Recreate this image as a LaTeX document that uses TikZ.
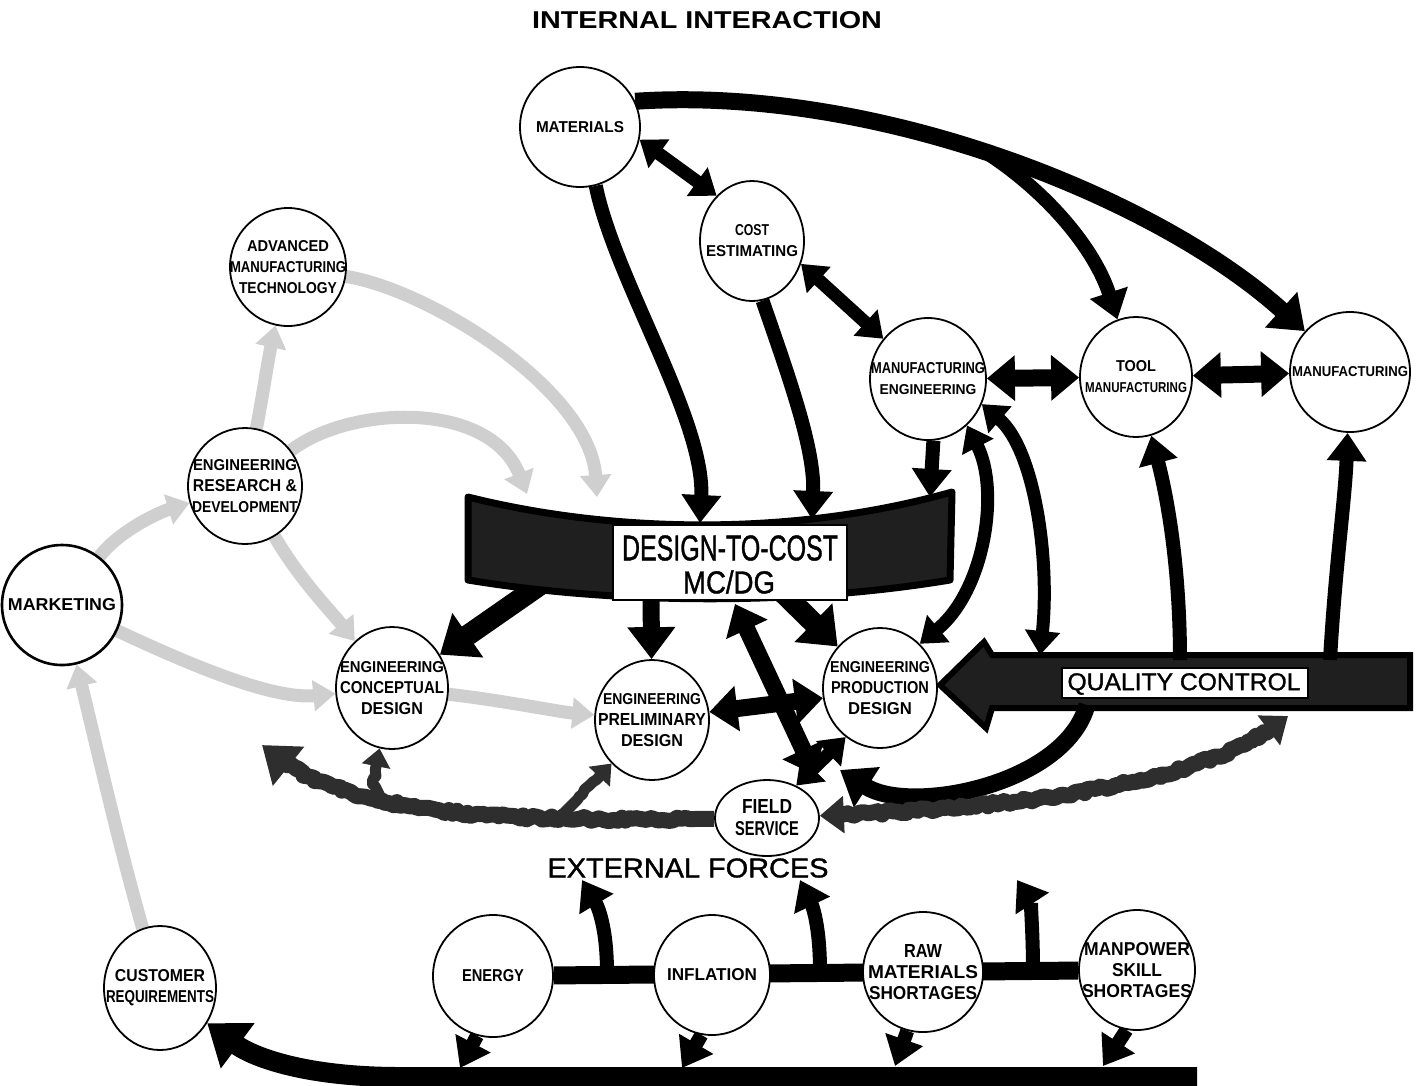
\documentclass[tikz,border=0pt]{standalone}
\usepackage{graphicx}
\usepackage{fontspec}
\setmainfont{Liberation Sans}
\newfontfamily\midfont{Liberation Sans}[FakeBold=1.2]
\usetikzlibrary{arrows.meta,shapes.geometric,calc,decorations.pathmorphing}

% stretch a line of text to a given width and cap height (in pt)
\newcommand\fitline[3]{\resizebox{#1pt}{#2pt}{#3}}

\pgfdeclarelayer{paper}
\pgfdeclarelayer{back}
\pgfdeclarelayer{mid}
\pgfsetlayers{paper,back,mid,main}

\tikzset{
  bub/.style 2 args={ellipse, draw=black, line width=1.8pt, fill=white,
    minimum width=#1pt, minimum height=#2pt, inner sep=0pt},
  lbl/.style={inner sep=0pt, align=center, font=\bfseries\fontsize{12}{21}\selectfont},
  plain/.style={inner sep=0pt},
  blk/.style={draw=black, line width=17pt, -{Triangle[length=32pt,width=46pt]}},
  blkthin/.style={draw=black, line width=14pt, -{Triangle[length=28pt,width=38pt]}},
  blkfat/.style={draw=black, line width=21pt, -{Triangle[length=34pt,width=52pt]}},
  dbl/.style={draw=black, line width=17pt,
    {Triangle[length=28pt,width=44pt]}-{Triangle[length=28pt,width=44pt]}},
  dblthin/.style={draw=black, line width=13pt,
    {Triangle[length=24pt,width=34pt]}-{Triangle[length=24pt,width=34pt]}},
  gry/.style={draw=gray!38, line width=13pt, -{Triangle[length=22pt,width=30pt]}},
  grain/.style={draw=black!82, line width=16pt, line join=round,
    decorate, decoration={random steps, segment length=4pt, amplitude=2pt,
      pre=lineto, pre length=22pt, post=lineto, post length=22pt}},
}

\begin{document}
\begin{tikzpicture}[x=1pt,y=-1pt]
\useasboundingbox (0,0) rectangle (1420,1085);
\begin{pgfonlayer}{paper}
\fill[white] (0,0) rectangle (1420,1085);
\end{pgfonlayer}

% ---------- departments ----------
\node[bub={120}{120}] (mat)   at (580,127) {};
\node[bub={104}{120}] (cost)  at (752,241) {};
\node[bub={116}{118}] (amt)   at (288,267) {};
\node[bub={116}{122}] (mfe)   at (928,379) {};
\node[bub={112}{120}] (tool)  at (1136,377) {};
\node[bub={120}{120}] (manu)  at (1350,372) {};
\node[bub={114}{116}] (rnd)   at (245,486) {};
\node[bub={120}{120}, line width=2.6pt] (mkt) at (62,605) {};
\node[bub={112}{122}] (ecd)   at (392,688) {};
\node[bub={114}{120}] (epd)   at (652,720) {};
\node[bub={114}{120}] (eprod) at (880,688) {};
\node[bub={104}{76}]  (fs)    at (767,818) {};
\node[bub={112}{124}] (cust)  at (160,988) {};
\node[bub={120}{122}] (energy) at (493,976) {};
\node[bub={116}{120}] (infl)  at (712,975) {};
\node[bub={120}{120}] (raw)   at (923,972) {};
\node[bub={116}{120}] (manp)  at (1137,970) {};

% ---------- free ends of connectors ----------
\coordinate (br)   at (990,155);
\coordinate (dtcA) at (700,523);
\coordinate (dtcB) at (812,519);
\coordinate (dtcC) at (930,497);
\coordinate (dtcD) at (540,585);
\coordinate (dtcE) at (651,590);
\coordinate (dtcF) at (780,590);
\coordinate (dtcG) at (735,604);
\coordinate (dtcH) at (815,775);
\coordinate (dtcI) at (597,497);
\coordinate (dtcJ) at (527,494);
\coordinate (qcD)  at (1040,655);
\coordinate (qcE)  at (1180,660);
\coordinate (qcF)  at (1330,660);
\coordinate (qcG)  at (1087,705);
\coordinate (qcH)  at (1288,716);
\coordinate (pdS)  at (840,770);
\coordinate (lft)  at (262,745);
\coordinate (j1)   at (385,806);
\coordinate (j2)   at (562,815);
\coordinate (u1s)  at (607,973);
\coordinate (u1e)  at (582,880);
\coordinate (u2s)  at (820,971);
\coordinate (u2e)  at (800,880);
\coordinate (u3s)  at (1033,970);
\coordinate (u3e)  at (1017,880);
\coordinate (d1)   at (460,1068);
\coordinate (d2)   at (682,1068);
\coordinate (d3)   at (895,1066);
\coordinate (d4)   at (1103,1066);
\coordinate (bbR)  at (1197,1077);
\coordinate (bbM)  at (400,1077);

% ---------- grey (indirect) influences ----------
\begin{pgfonlayer}{back}
\draw[gry] (amt) .. controls (430,290) and (590,390) .. (dtcI);
\draw[gry] (rnd) .. controls (350,405) and (490,400) .. (dtcJ);
\draw[gry] (rnd) .. controls (262,400) and (268,360) .. (amt);
\draw[gry] (mkt) .. controls (120,530) and (160,512) .. (rnd);
\draw[gry] (rnd) .. controls (300,580) and (330,610) .. (ecd);
\draw[gry] (mkt) .. controls (180,660) and (270,700) .. (ecd);
\draw[gry] (ecd) .. controls (500,700) and (560,712) .. (epd);
\draw[gry] (cust) .. controls (120,850) and (95,740) .. (mkt);

% arrows leaving the design-to-cost band
\draw[blkfat] (dtcD) -- (ecd);
\draw[blk] (dtcE) -- (epd);
\draw[blkfat] (dtcF) -- (eprod);

% external forces bar and its branches
\draw[black, line width=18pt] (energy) -- (manp);
\draw[blkthin] (u1s) .. controls (607,925) and (597,905) .. (u1e);
\draw[blkthin] (u2s) .. controls (820,925) and (812,905) .. (u2e);
\draw[blkthin] (u3s) .. controls (1033,930) and (1030,900) .. (u3e);
\end{pgfonlayer}

% ---------- bands ----------
\begin{pgfonlayer}{mid}
\filldraw[fill=black!88, draw=black, line width=7pt, line join=round]
  (468,497) .. controls (620,535) and (800,535) .. (952,492)
  -- (950,580) .. controls (800,605) and (620,605) .. (468,580) -- cycle;
\filldraw[fill=black!88, draw=black, line width=6pt, line join=miter]
  (940,685) -- (984,642) -- (992,655) -- (1410,655) -- (1410,708)
  -- (992,708) -- (986,728) -- cycle;

% ---------- direct (black) influences ----------
\draw[blk] (mat.25) .. controls (880,85) and (1160,200) .. (manu);
\draw[blkthin] (br) .. controls (1050,195) and (1095,250) .. (tool);
\draw[dblthin] (mat.-12) -- (cost.128);
\draw[blkthin] (mat.-75) .. controls (615,280) and (705,420) .. (dtcA);
\draw[blkthin] (cost.-80) .. controls (790,380) and (815,450) .. (dtcB);
\draw[dblthin] (cost.-25) -- (mfe.138);
\draw[dbl] (mfe) -- (tool);
\draw[dbl] (tool) -- (manu);
\draw[blkthin] (mfe.-85) -- (dtcC);
\draw[dblthin] (mfe.-50) .. controls (1000,490) and (985,590) .. (eprod.48);
\draw[dblthin] (mfe.-25) .. controls (1035,450) and (1050,560) .. (qcD);
\draw[blkthin] (qcE) .. controls (1180,570) and (1168,500) .. (tool);
\draw[blkthin] (qcF) .. controls (1335,570) and (1345,500) .. (manu);
\draw[dbl] (dtcG) -- (dtcH);
\draw[dbl] (epd.8) -- (eprod.190);
\draw[dblthin] (eprod.-125) -- (fs.48);
\draw[blk] (qcG) .. controls (1065,785) and (910,815) .. (pdS);

% ---------- field service feedback ----------
\draw[grain, {Triangle[length=24pt,width=36pt]}-{Triangle[length=24pt,width=36pt]}]
  (fs) .. controls (1000,808) and (1200,790) .. (qcH);
\draw[grain, -{Triangle[length=34pt,width=48pt]}]
  (fs) .. controls (480,822) and (340,815) .. (lft);
\draw[grain, line width=11pt, -{Triangle[length=18pt,width=28pt]}]
  (j1) .. controls (372,785) .. (ecd);
\draw[grain, line width=11pt, -{Triangle[length=18pt,width=28pt]}]
  (j2) .. controls (585,792) .. (epd);

% ---------- external forces ----------
\draw[blkthin] (energy.-105) -- (d1);
\draw[blkthin] (infl.-100) -- (d2);
\draw[blkthin] (raw.-105) -- (d3);
\draw[blkthin] (manp.-100) -- (d4);
\draw[black, line width=20pt, -{Triangle[length=38pt,width=54pt]}]
  (bbR) -- (bbM) .. controls (300,1077) and (250,1055) .. (cust);
\end{pgfonlayer}

% ---------- band captions ----------
\node[draw=black, line width=2pt, fill=white, minimum width=234pt,
  minimum height=75pt, inner sep=0pt] (dtcbox) at (730,562.5) {};
\node[plain, font=\midfont] (dtc1) at (730,548) {\fitline{216}{25}{DESIGN-TO-COST}};
\node[plain, font=\midfont] (dtc2) at (729,582) {\fitline{92}{23}{MC/DG}};
\node[draw=black, line width=1.5pt, fill=white, minimum width=246pt,
  minimum height=30pt, inner sep=0pt] (qcbox) at (1185,683) {};
\node[plain, font=\midfont] (qc1) at (1184,684) {\fitline{233}{17}{QUALITY CONTROL}};

% ---------- department captions ----------
\node[lbl] (mat-t)   at (mat)   {\fitline{88}{11}{MATERIALS}};
\node[lbl] (cost-t)  at (cost)  {\fitline{34}{11}{COST}\\\fitline{92}{11}{ESTIMATING}};
\node[lbl] (amt-t)   at (amt)   {\fitline{82}{11}{ADVANCED}\\\fitline{116}{11}{MANUFACTURING}\\\fitline{98}{11}{TECHNOLOGY}};
\node[lbl] (mfe-t)   at (mfe)   {\fitline{114}{11}{MANUFACTURING}\\\fitline{97}{10}{ENGINEERING}};
\node[lbl] (tool-t)  at (tool)  {\fitline{40}{11}{TOOL}\\\fitline{102}{10}{MANUFACTURING}};
\node[lbl] (manu-t)  at (manu)  {\fitline{116}{10}{MANUFACTURING}};
\node[lbl] (rnd-t)   at (rnd)   {\fitline{104}{11}{ENGINEERING}\\\fitline{104}{12}{RESEARCH \&}\\\fitline{106}{11}{DEVELOPMENT}};
\node[lbl] (mkt-t)   at (mkt)   {\fitline{108}{12}{MARKETING}};
\node[lbl] (ecd-t)   at (ecd)   {\fitline{104}{11}{ENGINEERING}\\\fitline{104}{12}{CONCEPTUAL}\\\fitline{62}{12}{DESIGN}};
\node[lbl] (epd-t)   at (epd)   {\fitline{98}{11}{ENGINEERING}\\\fitline{108}{12}{PRELIMINARY}\\\fitline{62}{12}{DESIGN}};
\node[lbl] (eprod-t) at (eprod) {\fitline{100}{11}{ENGINEERING}\\\fitline{98}{12}{PRODUCTION}\\\fitline{64}{12}{DESIGN}};
\node[lbl, font=\bfseries\fontsize{12}{22}\selectfont] (fs-t) at (fs) {\fitline{50}{14}{FIELD}\\\fitline{64}{14}{SERVICE}};
\node[lbl] (cust-t)  at (cust)  {\fitline{90}{12}{CUSTOMER}\\\fitline{108}{12}{REQUIREMENTS}};
\node[lbl] (energy-t) at (energy) {\fitline{62}{12}{ENERGY}};
\node[lbl] (infl-t)  at (infl)  {\fitline{90}{12}{INFLATION}};
\node[lbl] (raw-t)   at (raw)   {\fitline{38}{13}{RAW}\\\fitline{110}{13}{MATERIALS}\\\fitline{108}{13}{SHORTAGES}};
\node[lbl] (manp-t)  at (manp)  {\fitline{106}{13}{MANPOWER}\\\fitline{50}{13}{SKILL}\\\fitline{110}{13}{SHORTAGES}};

% ---------- headings ----------
\node[plain, font=\bfseries] (title) at (707,20) {\fitline{350}{17}{INTERNAL INTERACTION}};
\node[plain, font=\midfont] (ext) at (688,868) {\fitline{281}{19}{EXTERNAL FORCES}};
\end{tikzpicture}
\end{document}
